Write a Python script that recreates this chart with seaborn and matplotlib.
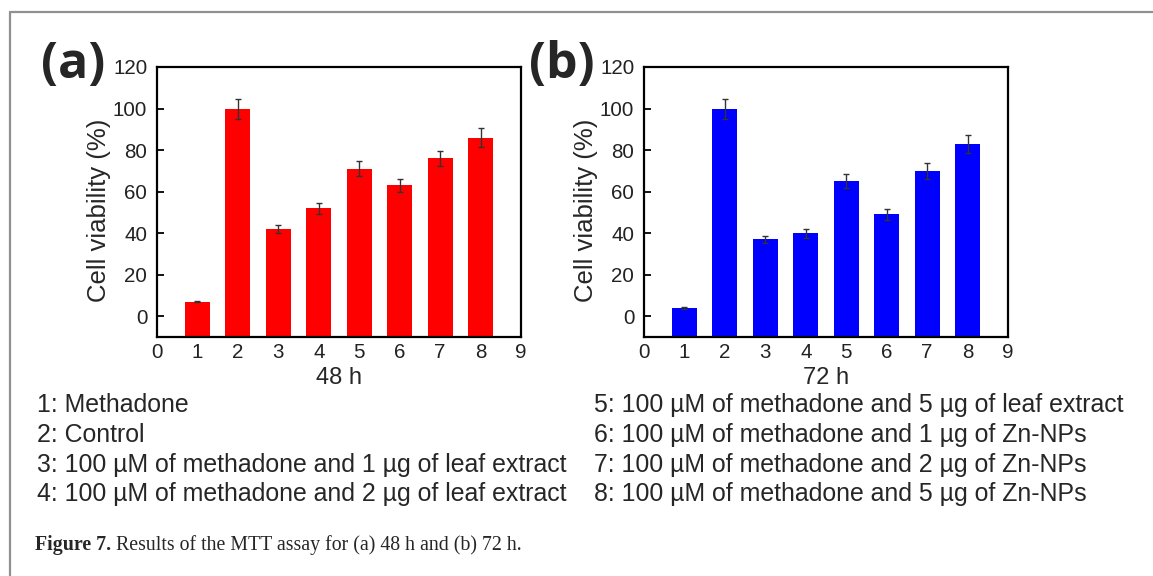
import matplotlib
matplotlib.use("Agg")
import matplotlib.pyplot as plt
import seaborn as sns
import numpy as np
import pandas as pd
from matplotlib.lines import Line2D

# ---- data ----
groups = [1, 2, 3, 4, 5, 6, 7, 8]
viab_48 = [7, 100, 42, 52, 71, 63, 76, 86]
err_48 = [0.3, 4.8, 1.9, 2.6, 3.7, 3.2, 3.7, 4.5]
viab_72 = [4, 100, 37, 40, 65, 49, 70, 83]
err_72 = [0.3, 4.8, 1.8, 2.2, 3.4, 2.7, 3.7, 4.2]
xticks = [0, 1, 2, 3, 4, 5, 6, 7, 8, 9]
yticks = [0, 20, 40, 60, 80, 100, 120]
legend_left = ["1: Methadone", "2: Control",
               "3: 100 \u00b5M of methadone and 1 \u00b5g of leaf extract",
               "4: 100 \u00b5M of methadone and 2 \u00b5g of leaf extract"]
legend_right = ["5: 100 \u00b5M of methadone and 5 \u00b5g of leaf extract",
                "6: 100 \u00b5M of methadone and 1 \u00b5g of Zn-NPs",
                "7: 100 \u00b5M of methadone and 2 \u00b5g of Zn-NPs",
                "8: 100 \u00b5M of methadone and 5 \u00b5g of Zn-NPs"]
caption_bold = "Figure 7."
caption_rest = " Results of the MTT assay for (a) 48 h and (b) 72 h."

sns.set_style("ticks")
plt.rcParams['font.family'] = ['Liberation Sans', 'DejaVu Sans']

W, H = 1153, 576
fig = plt.figure(figsize=(W / 100, H / 100), dpi=100)

def px_axes(l, t, r, b):
    return fig.add_axes([l / W, 1 - b / H, (r - l) / W, (b - t) / H])

ax_a = px_axes(157, 67, 521, 337)
ax_b = px_axes(644, 67, 1008, 337)

YMIN, YMAX = -10, 120
for ax, vals, errs, color, xlabel in [
        (ax_a, viab_48, err_48, "#FF0000", "48 h"),
        (ax_b, viab_72, err_72, "#0000FF", "72 h")]:
    df = pd.DataFrame({"group": groups, "viability": vals})
    sns.barplot(data=df, x="group", y="viability", native_scale=True,
                width=0.62, color=color, saturation=1, errorbar=None, ax=ax,
                linewidth=0)
    # bars rise from the bottom of the axis frame, as in the original
    for p in ax.patches:
        h = p.get_height()
        p.set_y(YMIN)
        p.set_height(h - YMIN)
    ax.errorbar(groups, vals, yerr=errs, fmt="none", ecolor="#333333",
                elinewidth=1.0, capsize=2.5, capthick=1.0)
    ax.set_xlim(0, 9)
    ax.set_ylim(YMIN, YMAX)
    ax.set_xticks(xticks)
    ax.set_yticks(yticks)
    ax.tick_params(direction="in", length=5, width=1.3, labelsize=14.8,
                   top=False, right=False, colors="black")
    ax.tick_params(axis="y", pad=7)
    ax.tick_params(axis="x", pad=4)
    for s in ax.spines.values():
        s.set_visible(True)
        s.set_linewidth(1.6)
        s.set_color("black")
    ax.set_xlabel(xlabel, fontsize=17, labelpad=4)
    ax.set_ylabel("Cell viability (%)", fontsize=18.5)
    ax.yaxis.set_label_coords(-0.125, 0.47)
    for lab in ax.get_xticklabels() + ax.get_yticklabels():
        lab.set_color("#222222")

fig.text(41 / W, 1 - 65 / H, "(a)", fontsize=36, fontweight="bold",
         family=["Open Sans", "DejaVu Sans"], va="center", ha="left")
fig.text(529 / W, 1 - 65 / H, "(b)", fontsize=36, fontweight="bold",
         family=["Open Sans", "DejaVu Sans"], va="center", ha="left")

rows = [405, 435, 465, 494]
for y, t in zip(rows, legend_left):
    fig.text(37 / W, 1 - y / H, t, fontsize=17.9, va="center", ha="left")
for y, t in zip(rows, legend_right):
    fig.text(594 / W, 1 - y / H, t, fontsize=17.9, va="center", ha="left")

# frame lines (top and left)
fig.add_artist(Line2D([10 / W, 1], [1 - 12 / H, 1 - 12 / H], color="#909090",
                      lw=1.6, transform=fig.transFigure))
fig.add_artist(Line2D([10 / W, 10 / W], [0, 1 - 12 / H], color="#909090",
                      lw=1.6, transform=fig.transFigure))

fig.canvas.draw()
cb = fig.text(35 / W, 1 - 545 / H, caption_bold, fontsize=14.3, fontweight="bold",
              family=["Liberation Serif"], va="center", ha="left")
fig.canvas.draw()
bb = cb.get_window_extent()
fig.text(bb.x1 / W, 1 - 545 / H, caption_rest, fontsize=14.3,
         family=["Liberation Serif"], va="center", ha="left")

fig.savefig("out.png", dpi=100)
